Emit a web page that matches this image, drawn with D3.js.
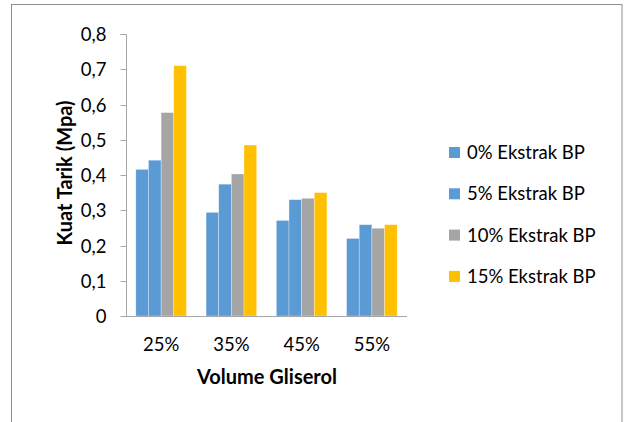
<!DOCTYPE html>
<html>
<head>
<meta charset="utf-8">
<script src="https://cdn.jsdelivr.net/npm/d3@7"></script>
<style>
  html, body { margin: 0; padding: 0; background: #fff; }
  svg { display: block; font-family: Lato, "Open Sans", sans-serif; }
</style>
</head>
<body>
<svg id="chart" width="625" height="422"></svg>
<script>
// Tensile strength (MPa) by glycerol volume, one series per extract level
const categories = ["25%", "35%", "45%", "55%"];
const seriesNames = ["0% Ekstrak BP", "5% Ekstrak BP", "10% Ekstrak BP", "15% Ekstrak BP"];
const ekstrak0 = [0.416, 0.294, 0.271, 0.220];
const ekstrak5 = [0.442, 0.374, 0.330, 0.259];
const ekstrak10 = [0.577, 0.403, 0.334, 0.249];
const ekstrak15 = [0.710, 0.485, 0.350, 0.259];
const yTicks = [0, 0.1, 0.2, 0.3, 0.4, 0.5, 0.6, 0.7, 0.8];
const seriesColors = ["#5B9BD5", "#5B9BD5", "#A5A5A5", "#FFC000"];

const seriesValues = [ekstrak0, ekstrak5, ekstrak10, ekstrak15];
const svg = d3.select("#chart");
const FS = 18.5;

// outer frame
svg.append("rect")
  .attr("x", 11.5).attr("y", 4.5)
  .attr("width", 610.5).attr("height", 430)
  .attr("fill", "none").attr("stroke", "#8f8f8f").attr("stroke-width", 1);

const plot = { left: 126, right: 407, top: 34, bottom: 316 };

const x0 = d3.scaleBand().domain(categories)
  .range([plot.left, plot.right]).paddingInner(0.28).paddingOuter(0.14);
const x1 = d3.scaleBand().domain(seriesNames)
  .range([0, x0.bandwidth()]).padding(0);
const y = d3.scaleLinear().domain([0, 0.8]).range([plot.bottom, plot.top]);

const fmt = v => d3.format(".1f")(v).replace(".", ",");

// y axis
const yAxis = svg.append("g")
  .attr("transform", `translate(${plot.left + 0.5},0)`)
  .call(d3.axisLeft(y).tickValues(yTicks).tickSize(6).tickPadding(14)
    .tickFormat(d => d === 0 ? "0" : fmt(d)));
yAxis.select(".domain").attr("stroke", "#A6A6A6").attr("d", `M-6,${Math.round(y(0.8)) + 0.5}H0V${plot.bottom + 0.5}`);
yAxis.selectAll(".tick line").attr("stroke", "#A6A6A6");
yAxis.selectAll(".tick").attr("transform", d => `translate(0,${Math.round(y(d)) + 0.5})`);
yAxis.selectAll(".tick text").attr("font-size", FS).attr("fill", "#000")
  .attr("font-family", "Lato, sans-serif").attr("dy", "0.36em");

// bars
const groups = svg.append("g").selectAll("g")
  .data(categories).join("g")
  .attr("transform", d => `translate(${x0(d)},0)`);
groups.selectAll("rect")
  .data((c, i) => seriesNames.map((s, k) => ({ s, k, v: seriesValues[k][i] })))
  .join("rect")
  .attr("x", d => x1(d.s))
  .attr("y", d => y(d.v))
  .attr("width", x1.bandwidth())
  .attr("height", d => y(0) - y(d.v))
  .attr("fill", d => seriesColors[d.k])
  .attr("stroke", "#ffffff").attr("stroke-opacity", 0.5).attr("stroke-width", 0.6);

// x axis
const xAxis = svg.append("g")
  .attr("transform", `translate(0,${plot.bottom + 0.5})`)
  .call(d3.axisBottom(x0).tickSize(0).tickPadding(21));
xAxis.select(".domain").attr("stroke", "#A6A6A6").attr("d", `M${plot.left},0H${plot.right}`);
xAxis.selectAll(".tick text").attr("font-size", FS).attr("fill", "#000")
  .attr("font-family", "Lato, sans-serif");

// axis titles
svg.append("text")
  .attr("x", 267).attr("y", 384)
  .attr("text-anchor", "middle").attr("font-size", 20).attr("font-weight", "bold")
  .text("Volume Gliserol");
svg.append("text")
  .attr("transform", `translate(72,173) rotate(-90)`)
  .attr("text-anchor", "middle").attr("font-size", 20).attr("font-weight", "bold")
  .text("Kuat Tarik (Mpa)");

// legend
const legend = svg.append("g").selectAll("g")
  .data(seriesNames).join("g")
  .attr("transform", (d, i) => `translate(449,${147 + i * 41.3})`);
legend.append("rect")
  .attr("width", 11).attr("height", 11)
  .attr("fill", (d, i) => seriesColors[i]);
legend.append("text")
  .attr("x", 18).attr("y", 5.5).attr("dy", "0.36em")
  .attr("font-size", FS).attr("fill", "#000")
  .text(d => d);
</script>
</body>
</html>
